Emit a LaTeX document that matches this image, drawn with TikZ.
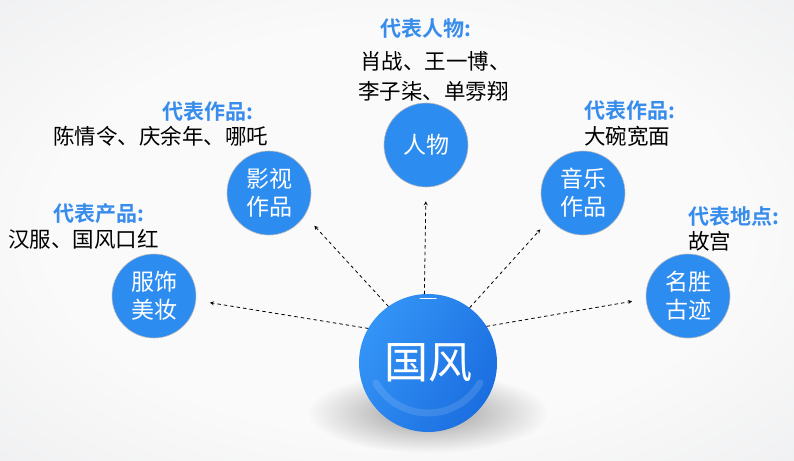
\documentclass[tikz,border=0pt]{standalone}
\usepackage{fontspec}
\setmainfont{Noto Sans CJK SC}[BoldFont={Noto Sans CJK SC Bold}]
\usetikzlibrary{arrows, calc, fadings}
\definecolor{qfblue}{RGB}{45,140,240}
\definecolor{qflight}{RGB}{52,148,246}
\definecolor{qfdeep}{RGB}{27,110,224}
\definecolor{qflabel}{RGB}{55,140,236}
\definecolor{bgin}{RGB}{250,250,250}
\definecolor{bgmid}{RGB}{230,231,234}
\definecolor{bgout}{RGB}{210,212,217}
\pgfdeclareradialshading{bgshade}{\pgfpoint{0bp}{0bp}}{color(0bp)=(bgin); color(22bp)=(bgin); color(50bp)=(bgmid); color(71bp)=(bgout)}
\tikzfading[name=shadowfade, inner color=transparent!45, outer color=transparent!100]

\begin{document}
\begin{tikzpicture}[line join = round, line cap = round,>=stealth,x=1pt,y=-1pt,
ball/.style={circle,draw=gray!55,line width=0.6pt,fill=qfblue,minimum size=84pt,inner sep=0pt,
  text=white,align=center,font=\fontsize{23}{28}\selectfont},
lab/.style={anchor=west,inner sep=0pt,text=qflabel,font=\fontsize{21}{25}\selectfont\bfseries},
txt/.style={anchor=west,inner sep=0pt,font=\fontsize{21.5}{25}\selectfont}]
\useasboundingbox (0,0) rectangle (794,460);
\shade[shading=bgshade] (0,0) rectangle (794,460);
\path
(428,363) coordinate (O)
(426,145) coordinate (A)
(269,193) coordinate (B)
(154,296) coordinate (C)
(583,193) coordinate (D)
(688,296) coordinate (E)
;
% shadow under the big ball
\fill[black!70,path fading=shadowfade] ($(O)+(0,50)$) ellipse [x radius=120, y radius=40];
\node[circle,minimum size=138pt,inner sep=0pt,left color=qflight,right color=qfdeep,shading angle=60,
  text=white,font=\fontsize{44}{48}\selectfont] (o) at (O) {国风};
\draw[white,opacity=0.12,line width=7pt] ($(O)+(-52,20)$) arc[start angle=150,end angle=30,radius=60];
\draw[white,line width=1pt] ($(O)+(-8,-65)$)--($(O)+(8,-65)$);
\foreach \x/\t in {A/人物,B/影视\\作品,C/服饰\\美妆,D/音乐\\作品,E/名胜\\古迹}
{\node[ball] (\x\x) at (\x) {\t};}
\foreach \x/\goc/\den in {A/93/-90,B/125/-32,C/150/-6,D/53/-142,E/32/-176}
{\draw[->,line width=0.8pt,dash pattern=on 3pt off 3.5pt,shorten >=14pt] (o.\goc)--(\x\x.\den);}
% labels
\node[lab] (la) at (380,29) {代表人物:};
\node[txt] (ta1) at (360,61) {肖战、王一博、};
\node[txt] (ta2) at (358,91) {李子柒、单雰翔};
\node[lab] (lb) at (162,112) {代表作品:};
\node[txt] (tb) at (53,136) {陈情令、庆余年、哪吒};
\node[lab] (lc) at (53,214) {代表产品:};
\node[txt] (tc) at (8,239) {汉服、国风口红};
\node[lab] (ld) at (584,111) {代表作品:};
\node[txt] (td) at (584,136) {大碗宽面};
\node[lab] (le) at (688,217) {代表地点:};
\node[txt] (te) at (688,241) {故宫};
\end{tikzpicture}
\end{document}
